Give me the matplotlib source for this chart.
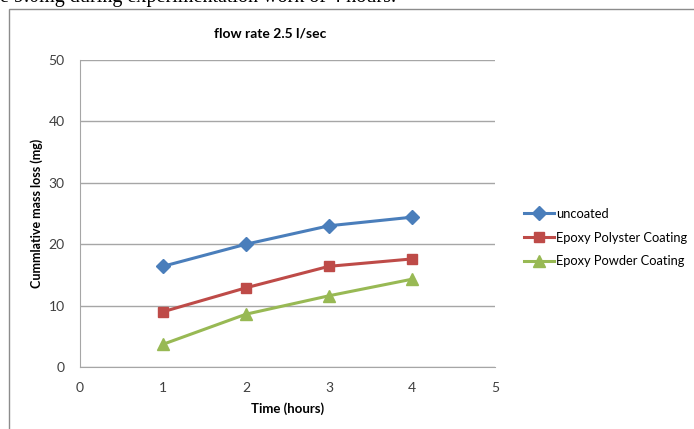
import matplotlib
matplotlib.use('Agg')
import matplotlib.pyplot as plt
from matplotlib.patches import Rectangle

# data
hours = [1, 2, 3, 4]
uncoated = [16.4, 20.0, 23.0, 24.4]
polyster = [9.0, 12.9, 16.4, 17.6]
powder = [3.7, 8.6, 11.6, 14.3]
series_names = ['uncoated', 'Epoxy Polyster Coating', 'Epoxy Powder Coating']

plt.rcParams['font.family'] = ['Lato', 'DejaVu Sans']

W, H = 694, 429
fig = plt.figure(figsize=(W / 100, H / 100), dpi=100)

# cut-off line of body text above the chart
fig.text(0.0, 1 - 2 / H, 'e 9.0mg during experimentation work of 4 hours.',
         family='Liberation Serif', fontsize=14.5, va='baseline', ha='left', color='black')

# chart frame
fig.patches.append(Rectangle((9 / W, -0.05), 1.2, 1 - 9 / H + 0.05, transform=fig.transFigure,
                             fill=False, edgecolor='#8c8c8c', lw=1.0))

ax = fig.add_axes([80 / W, 1 - 367 / H, 415 / W, 307 / H])
ax.plot(hours, uncoated, color='#4a7ebb', lw=2.2, marker='D', ms=7, label=series_names[0])
ax.plot(hours, polyster, color='#be4b48', lw=2.2, marker='s', ms=7.5, label=series_names[1])
ax.plot(hours, powder, color='#98b954', lw=2.2, marker='^', ms=8.5, label=series_names[2])

ax.set_xlim(0, 5)
ax.set_ylim(0, 50)
ax.set_xticks(range(0, 6))
ax.set_yticks(range(0, 51, 10))
ax.yaxis.grid(True, color='#a6a6a6', lw=1)
ax.set_axisbelow(True)
for s in ['top', 'right']:
    ax.spines[s].set_visible(False)
for s in ['left', 'bottom']:
    ax.spines[s].set_color('#a6a6a6')
ax.tick_params(length=0, labelsize=10, colors='#404040', pad=11)
ax.tick_params(axis='y', pad=11)
ax.set_xlabel('Time (hours)', fontsize=9.5, fontweight='bold', labelpad=6)
ax.set_ylabel('Cummlative mass loss (mg)', fontsize=9, fontweight='bold', labelpad=4)

fig.text(270 / W, 1 - 33 / H, 'flow rate 2.5 l/sec', ha='center', va='center',
         fontsize=10, fontweight='bold')

fig.legend(loc='upper left', bbox_to_anchor=(520 / W, 1 - 204 / H), frameon=False,
           fontsize=9.3, handlelength=2.3, labelspacing=0.9, handletextpad=0.2,
           borderaxespad=0, borderpad=0.3)

plt.savefig('out.png', dpi=100)
